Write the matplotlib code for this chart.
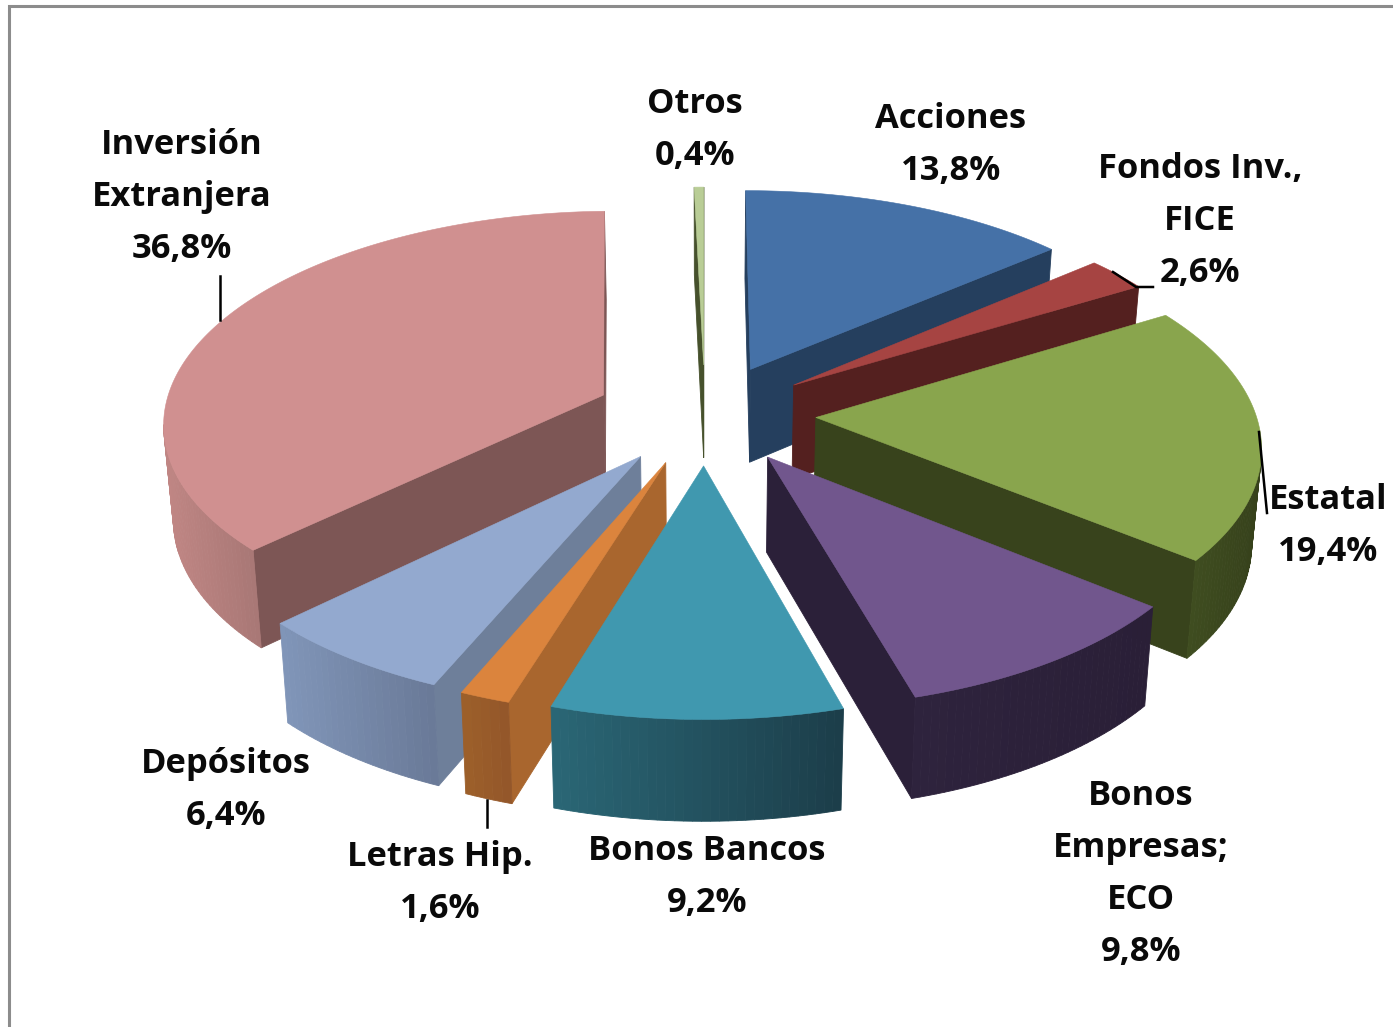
import numpy as np
import matplotlib
matplotlib.use("Agg")
import matplotlib.pyplot as plt
from matplotlib.patches import Polygon

# ---- data (clockwise from 12 o'clock) ----
names = ["Acciones", "Fondos Inv.,\nFICE", "Estatal", "Bonos\nEmpresas;\nECO", "Bonos Bancos",
         "Letras Hip.", "Depósitos", "Inversión\nExtranjera", "Otros"]
values = [13.8, 2.6, 19.4, 9.8, 9.2, 1.6, 6.4, 36.8, 0.4]

# ---- style ----
top_colors = ["#4571A7", "#A64442", "#89A54D", "#71568D", "#4098AF", "#DB843D", "#93A9CF", "#D09090", "#B9CD96"]
wall_colors = ["#253F5E", "#54201F", "#38431C", "#2B2039", "#235E6E", "#A9662E", "#6E7F9A", "#7D5655", "#46512C"]
rim_left = ["#253F5E", "#54201F", "#3F4D20", "#2E233D", "#2A6675", "#9C5F2A", "#8095B8", "#C08684", "#46512C"]
rim_right = ["#253F5E", "#54201F", "#36411B", "#2A1F37", "#1C3E4A", "#94572A", "#6A7A98", "#A97876", "#46512C"]
label_xy = [(951, 145), (1200, 221), (1328, 526), (1141, 874), (707, 877),
            (440, 883), (226, 790), (182, 197), (695, 130)]
leaders = [[(220, 276), (220, 320)],
           [(1113, 272), (1136, 287), (1153, 287)],
           [(1259, 432), (1267, 513)],
           [(487, 800), (487, 827)]]

CX, CY = 705, 414      # pie centre on the canvas
A, B = 440, 210        # disc semi-axes
K = 0.119              # perspective strength
EXPLODE_X, EXPLODE_Y = 0.252, 0.24
DEPTH = 94
Q = 0.982


def project(theta, r, mid):
    X = r * np.sin(theta) + EXPLODE_X * np.sin(mid)
    Y = r * np.cos(theta) + EXPLODE_Y * np.cos(mid)
    p = 1.0 / (1.0 + K * Y)
    return CX + X * A * p, CY - Y * B * p, p


def drop(x, y, p):
    return CX + (x - CX) * Q, y + DEPTH * np.sqrt(p)


def mix(c1, c2, t):
    a, b = np.array(matplotlib.colors.to_rgb(c1)), np.array(matplotlib.colors.to_rgb(c2))
    return tuple(a + (b - a) * t)


fig = plt.figure(figsize=(13.93, 10.27), dpi=100, facecolor="white")
ax = fig.add_axes([0, 0, 1, 1])
ax.set_xlim(0, 1393)
ax.set_ylim(1027, 0)
ax.axis("off")

# frame
ax.plot([9, 9, 1393], [1027, 6, 6], color="#8C8C8C", lw=2.2, solid_capstyle="butt", solid_joinstyle="miter")

edges = np.concatenate([[0], np.cumsum(values)]) / np.sum(values) * 2 * np.pi
mids = (edges[:-1] + edges[1:]) / 2


def quad(ax, pts, color, z):
    ax.add_patch(Polygon(pts, closed=True, facecolor=color, edgecolor=color, lw=0.6, zorder=z))


order = np.argsort(-np.cos(mids))
for rank, i in enumerate(order):
    z = 2 + rank
    t0, t1, m = edges[i], edges[i + 1], mids[i]
    th = np.linspace(t0, t1, max(6, int((t1 - t0) * 60)))
    x, y, p = project(th, 1.0, m)
    tx, ty, tp = project(0.0, 0.0, m)
    bx, by = drop(x, y, p)
    tbx, tby = drop(tx, ty, tp)

    # radial walls facing the viewer
    if x[0] < tx:
        quad(ax, [(tx, ty), (x[0], y[0]), (bx[0], by[0]), (tbx, tby)], wall_colors[i], z)
    if x[-1] > tx:
        quad(ax, [(tx, ty), (x[-1], y[-1]), (bx[-1], by[-1]), (tbx, tby)], wall_colors[i], z)

    # outer rim, shaded left to right
    vis = [j for j in range(len(th) - 1) if x[j + 1] < x[j]]
    if vis:
        xmin, xmax = x[vis].min(), x[vis].max() + 1e-6
        for j in vis:
            col = mix(rim_left[i], rim_right[i], (x[j] - xmin) / (xmax - xmin))
            quad(ax, [(x[j], y[j]), (x[j + 1], y[j + 1]), (bx[j + 1], by[j + 1]), (bx[j], by[j])], col, z)

    # top face
    ax.add_patch(Polygon(np.column_stack([np.r_[tx, x], np.r_[ty, y]]), closed=True,
                         facecolor=top_colors[i], edgecolor=top_colors[i], lw=0.4, zorder=z + 0.5))

for seg in leaders:
    xs, ys = zip(*seg)
    ax.plot(xs, ys, color="black", lw=1.8, zorder=30)

for name, val, (lx, ly) in zip(names, values, label_xy):
    txt = f"{name}\n{str(val).replace('.', ',')}%"
    ax.text(lx, ly, txt, ha="center", va="center", family="Open Sans", weight="bold",
            fontsize=24.8, color="#0A0A0A", linespacing=1.69, zorder=31)

fig.savefig("out.png", dpi=100, facecolor="white")
